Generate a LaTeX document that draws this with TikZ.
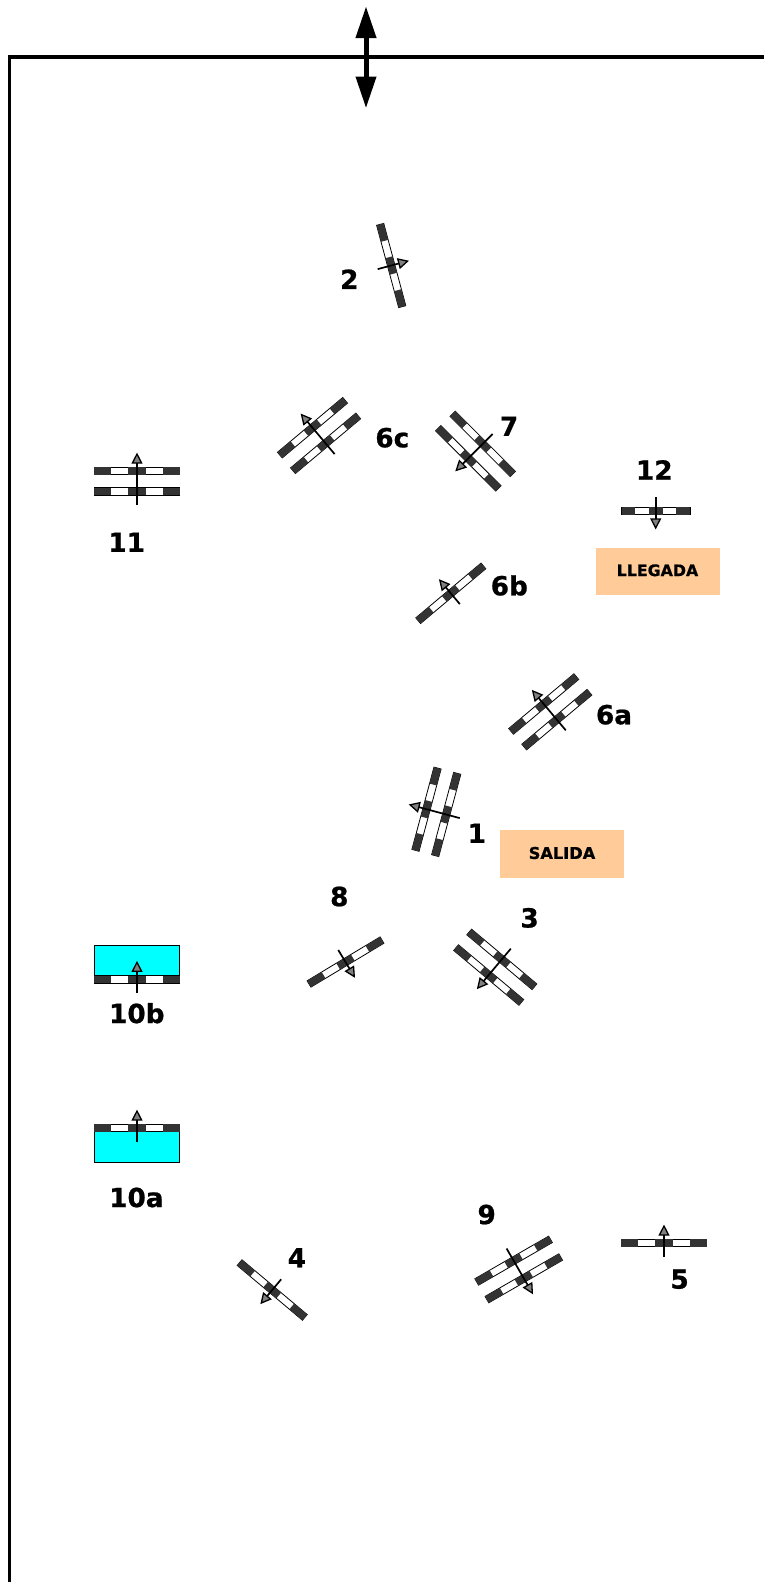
\documentclass[tikz,border=0pt]{standalone}
\usepackage{fontspec}
\setmainfont{DejaVu Sans}[BoldFeatures={FakeBold=0.8}]
\definecolor{raildark}{HTML}{333333}
\definecolor{boxorange}{HTML}{FFCC99}
\definecolor{headgray}{HTML}{808080}
\definecolor{basincyan}{HTML}{00FFFF}
\tikzset{
  railout/.style={draw=black,line width=0.8pt,fill=white},
  raildk/.style={fill=raildark},
  arrowline/.style={draw=black,line width=1.7pt},
  arrowhead/.style={draw=black,line width=1.3pt,fill=headgray,line join=miter},
  numlabel/.style={font=\bfseries\fontsize{26.3}{30}\selectfont,text=black,inner sep=0pt,yshift=0.8pt},
  boxlabel/.style={fill=boxorange,font=\bfseries\fontsize{15.8}{18}\selectfont,text=black,inner sep=0pt,minimum width=124pt,minimum height=47.5pt},
  basin/.style={draw=black,line width=1.7pt,fill=basincyan},
}
% one bar, centred on the local origin
\newcommand{\railbar}[2]{% #1 half length, #2 local y
  \pgfmathsetmacro{\fifth}{2*#1/5}
  \draw[railout] (-#1,#2-3.7) rectangle (#1,#2+3.7);
  \fill[raildk] (-#1,#2-3.7) rectangle ({-#1+\fifth},#2+3.7);
  \fill[raildk] ({-0.5*\fifth},#2-3.7) rectangle ({0.5*\fifth},#2+3.7);
  \fill[raildk] ({#1-\fifth},#2-3.7) rectangle (#1,#2+3.7);
}
\newcommand{\railarrow}[1]{% #1 local y of the tail
  \draw[arrowline] (0,#1) -- (0,-9);
  \draw[arrowhead] (0,-17) -- (4.6,-8) -- (-4.6,-8) -- cycle;
}
\newcommand{\railsingle}[4]{% x,y,angle,half length
  \begin{scope}[shift={(#1,#2)},rotate=#3]
    \railbar{#4}{0}
    \railarrow{14}
  \end{scope}
}
\newcommand{\railpair}[3]{% x,y of the front bar, angle
  \begin{scope}[shift={(#1,#2)},rotate=#3]
    \railbar{42.6}{0}
    \railbar{42.6}{20.4}
    \railarrow{34.4}
  \end{scope}
}
\begin{document}
\begin{tikzpicture}[x=1pt,y=-1pt]
\useasboundingbox (0,0) rectangle (764,1582);
% border
\coordinate (bl) at (9.5,1582);
\coordinate (tl) at (9.5,57);
\coordinate (tr) at (764,57);
\draw[line width=3.1pt,line join=miter] (bl) -- (tl) -- (tr);
% double arrow
\coordinate (dt) at (366,7);
\coordinate (db) at (366,107.5);
\draw[line width=5pt] (366,36) -- (366,78);
\fill (dt) -- (376.6,38) -- (355.4,38) -- cycle;
\fill (db) -- (376.6,76.5) -- (355.4,76.5) -- cycle;
% boxes
\node[boxlabel] (llegada) at (657.5,571.3) {\raisebox{1pt}[\height][\depth]{LLEGADA}};
\node[boxlabel,font=\bfseries\fontsize{16.2}{18}\selectfont] (salida) at (562,854) {\raisebox{1pt}[\height][\depth]{SALIDA}};
% basins
\draw[basin] (94.5,945.5) rectangle (179.5,979);
\draw[basin] (94.5,1128) rectangle (179.5,1162.5);
% signals
\railsingle{391.2}{265.5}{-75}{42.6}
\railpair{312.5}{427.7}{40}
\railpair{468.3}{458.3}{135}
\railpair{137}{471}{0}
\railsingle{655.7}{511}{180}{34.2}
\railsingle{450.8}{593.3}{40}{42.6}
\railpair{543.7}{704}{40}
\railpair{426.5}{809.2}{75}
\railsingle{345.5}{962}{211}{42.6}
\railpair{488.7}{975}{140}
\railsingle{137}{979.3}{0}{42.6}
\railsingle{137}{1128}{0}{42.6}
\railpair{523.8}{1278.3}{210}
\railsingle{272.2}{1290}{140}{42.6}
\railsingle{664}{1243}{0}{42.6}
% labels
\node[numlabel] (n2) at (349.3,280) {2};
\node[numlabel] (n6c) at (392.3,438.5) {6c};
\node[numlabel] (n7) at (509,427) {7};
\node[numlabel] (n12) at (654.3,470.7) {12};
\node[numlabel] (n11) at (126.7,543) {11};
\node[numlabel] (n6b) at (509.3,586.3) {6b};
\node[numlabel] (n6a) at (614,715.5) {6a};
\node[numlabel] (n1) at (476.9,834) {1};
\node[numlabel] (n8) at (339.3,897.3) {8};
\node[numlabel] (n3) at (529.6,918.7) {3};
\node[numlabel] (n10b) at (136.8,1014) {10b};
\node[numlabel] (n10a) at (136.4,1198.3) {10a};
\node[numlabel] (n4) at (296.9,1258.5) {4};
\node[numlabel] (n9) at (486.7,1215.3) {9};
\node[numlabel] (n5) at (679.6,1280) {5};
\end{tikzpicture}
\end{document}
